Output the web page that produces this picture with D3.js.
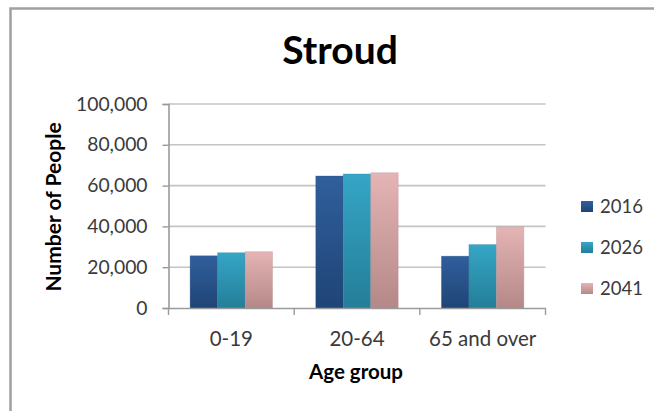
<!DOCTYPE html>
<html><head><meta charset="utf-8">
<script src="https://cdn.jsdelivr.net/npm/d3@7"></script>
<style>
html,body{margin:0;padding:0;background:#fff;}
svg{display:block;font-family:Lato,"Open Sans",sans-serif;}
</style></head>
<body>
<svg id="c" width="654" height="411"></svg>
<script>
const categories = ["0-19", "20-64", "65 and over"];
const seriesNames = ["2016", "2026", "2041"];
const values2016 = [25600, 64700, 25400];
const values2026 = [27100, 65700, 31100];
const values2041 = [27600, 66300, 39800];
const yTicks = [0, 20000, 40000, 60000, 80000, 100000];
const colorsTop = ["#305f9c", "#35a6c6", "#e5b4b4"];
const colorsBottom = ["#1f4477", "#247e98", "#b58888"];

(function () {
const seriesValues = [values2016, values2026, values2041];
const svg = d3.select("#c");

// chart border
svg.append("rect").attr("x", 10.5).attr("y", 8.5).attr("width", 660).attr("height", 420)
  .attr("fill", "#fff").attr("stroke", "#a0a0a0").attr("stroke-width", 2.5);

const defs = svg.append("defs");
seriesNames.forEach((s, i) => {
  const g = defs.append("linearGradient").attr("id", "g" + i).attr("x1", 0).attr("y1", 0).attr("x2", 0).attr("y2", 1);
  g.append("stop").attr("offset", "0%").attr("stop-color", colorsTop[i]);
  g.append("stop").attr("offset", "100%").attr("stop-color", colorsBottom[i]);
});

const pL = 168.5, pR = 545.5, pT = 104, pB = 308;
const x = d3.scaleBand().domain(categories).range([pL, pR]).paddingInner(0.344).paddingOuter(0.172);
const xs = d3.scaleBand().domain(seriesNames).range([0, x.bandwidth()]);
const y = d3.scaleLinear().domain([0, 100000]).range([pB, pT]);

// gridlines
svg.append("g").selectAll("line").data(yTicks.slice(1)).join("line")
  .attr("x1", pL).attr("x2", pR).attr("y1", d => y(d)).attr("y2", d => y(d))
  .attr("stroke", "#c4c4c4").attr("stroke-width", 1.6);

// bars
categories.forEach((c, ci) => {
  seriesNames.forEach((s, si) => {
    const v = seriesValues[si][ci];
    svg.append("rect").attr("x", x(c) + xs(s)).attr("y", y(v))
      .attr("width", xs.bandwidth()).attr("height", y(0) - y(v))
      .attr("fill", `url(#g${si})`).attr("stroke", colorsBottom[si]).attr("stroke-opacity", 0.35).attr("stroke-width", 0.8);
  });
});

// y axis
const ya = d3.axisLeft(y).tickValues(yTicks).tickSize(6).tickPadding(15).tickFormat(d3.format(","));
const yg = svg.append("g").attr("transform", `translate(${pL},0)`).call(ya);
yg.select(".domain").attr("stroke", "#9a9a9a").attr("stroke-width", 1.6);
yg.selectAll(".tick line").attr("stroke", "#9a9a9a").attr("stroke-width", 1.4);
yg.selectAll("text").attr("font-size", 19.3).attr("fill", "#3a3a3a").attr("font-family", "Lato");

// x axis
const xa = d3.axisBottom(x).tickSize(0).tickPadding(23);
const xg = svg.append("g").attr("transform", `translate(0,${pB})`).call(xa);
xg.select(".domain").attr("stroke", "#9a9a9a").attr("stroke-width", 1.6);
xg.selectAll("text").attr("font-size", 20.5).attr("fill", "#3a3a3a").attr("font-family", "Lato");
const bounds = [pL, ...categories.map(c => x(c) + x.bandwidth() + x.step() * x.paddingInner() / 2)];
bounds[bounds.length - 1] = pR;
xg.selectAll(".bt").data(bounds).join("line").attr("class", "bt")
  .attr("x1", d => d).attr("x2", d => d).attr("y1", 0).attr("y2", 7)
  .attr("stroke", "#9a9a9a").attr("stroke-width", 1.4);

// title
svg.append("text").attr("x", 340).attr("y", 64).attr("text-anchor", "middle")
  .attr("font-size", 39).attr("font-weight", "bold").attr("fill", "#000").text("Stroud");

// axis titles
svg.append("text").attr("transform", "translate(61,207) rotate(-90)").attr("text-anchor", "middle")
  .attr("font-size", 21).attr("font-weight", "bold").attr("fill", "#000").text("Number of People");
svg.append("text").attr("x", 356).attr("y", 379).attr("text-anchor", "middle")
  .attr("font-size", 20.5).attr("font-weight", "bold").attr("fill", "#000").text("Age group");

// legend
const lg = svg.append("g");
seriesNames.forEach((s, i) => {
  const cy = 206.5 + i * 41;
  lg.append("rect").attr("x", 581).attr("y", cy - 5.5).attr("width", 12).attr("height", 11)
    .attr("fill", `url(#g${i})`);
  lg.append("text").attr("x", 600).attr("y", cy).attr("dy", "0.36em")
    .attr("font-size", 18.5).attr("fill", "#3a3a3a").text(s);
});
})();
</script>
</body></html>
